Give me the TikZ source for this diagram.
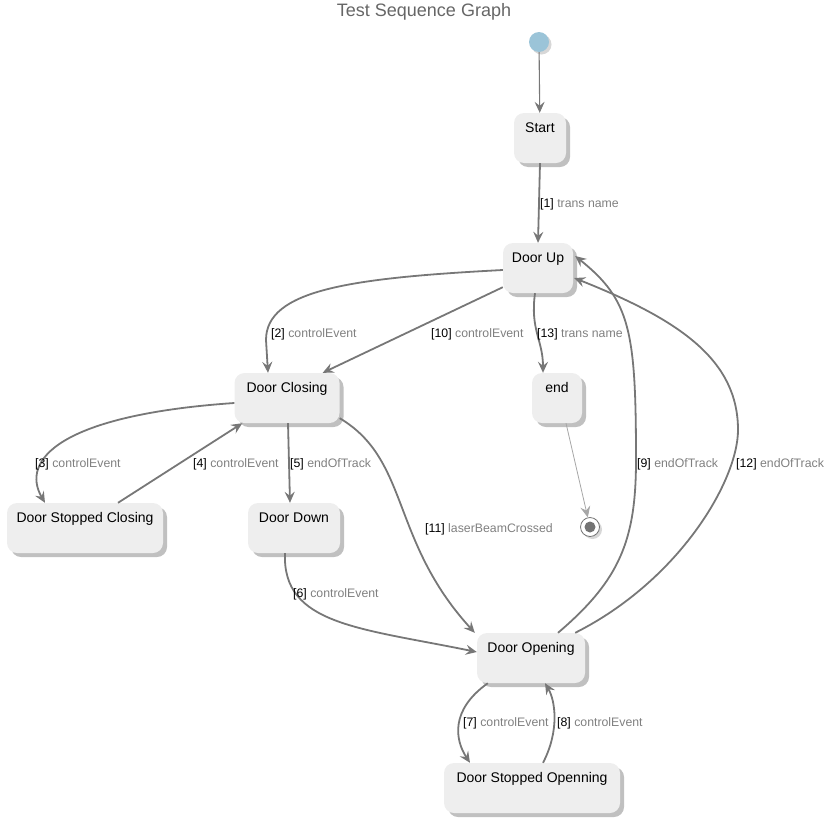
\documentclass[tikz,border=0pt]{standalone}
\usepackage{fontspec}
\setmainfont{Liberation Sans}
\usetikzlibrary{arrows.meta,shadows,calc}

\definecolor{boxfill}{HTML}{EEEEEE}
\definecolor{edgecol}{HTML}{777777}
\definecolor{lblgray}{HTML}{808080}
\definecolor{initblue}{HTML}{9BC4D8}

\tikzset{
  softshadow/.style={drop shadow={shadow xshift=4pt, shadow yshift=-4pt, fill=black!45, opacity=0.55}},
  dotshadow/.style={drop shadow={shadow xshift=2.5pt, shadow yshift=-2.5pt, fill=black!35, opacity=0.45}},
  statebox/.style={rectangle, rounded corners=10pt, fill=boxfill, draw=none, softshadow,
    minimum width=#1, minimum height=50pt, inner xsep=6pt, inner ysep=5pt,
    text height=14pt, text depth=26pt, font=\fontsize{14}{16}\selectfont},
  trans/.style={draw=edgecol, line width=1.8pt, -{Stealth[length=11pt, width=10pt, inset=4pt]}},
  thintrans/.style={draw=edgecol, line width=1.1pt, -{Stealth[length=11pt, width=10pt, inset=4pt]}},
  endtrans/.style={draw=black!35, line width=0.8pt, -{Stealth[length=11pt, width=10pt, inset=4pt]}},
  tlabel/.style={anchor=west, inner sep=0pt, font=\fontsize{12.3}{14}\selectfont}
}
\newcommand{\tlab}[2]{\textcolor{black}{[#1]} \textcolor{lblgray}{#2}}

\begin{document}
\begin{tikzpicture}[x=1pt, y=-1pt]
  \useasboundingbox (0,0) rectangle (837,822);

  % title
  \node[font=\fontsize{18}{20}\selectfont, text=black!60] (title) at (424,12) {Test Sequence Graph};

  % pseudo states
  \node[circle, fill=initblue, minimum size=20pt, inner sep=0pt, dotshadow] (init) at (539,42) {};
  \node[circle, fill=white, draw=black!55, line width=0.8pt, minimum size=19pt, inner sep=0pt, dotshadow] (fin) at (590,527) {};
  \node[circle, fill=black!55, minimum size=11pt, inner sep=0pt] (finc) at (fin) {};

  % states
  \node[statebox=52pt]  (st)  at (540,138) {Start};
  \node[statebox=70pt]  (du)  at (538,268) {Door Up};
  \node[statebox=105pt] (dc)  at (287,398) {Door Closing};
  \node[statebox=50pt]  (en)  at (557,398) {end};
  \node[statebox=156pt] (dsc) at (85,528)  {Door Stopped Closing};
  \node[statebox=92pt]  (dd)  at (294,528) {Door Down};
  \node[statebox=108pt] (dop) at (531,658) {Door Opening};
  \node[statebox=176pt] (dso) at (532,788) {Door Stopped Openning};

  % transitions
  \draw[thintrans] (init) -- (st);
  \draw[trans] (st.south) -- (du.north);

  \draw[trans] ($(du.west)+(0,2)$) .. controls (350,278) and (266,290) .. (266,340) -- (dc.north -| 268,0);
  \draw[trans] ($(du.south west)+(0,-6)$) -- ($(dc.north east)+(-17,0)$);
  \draw[trans] ($(du.south)+(-3,0)$) .. controls (530,330) and (543,340) .. ($(en.north)+(-14,0)$);

  \draw[trans] ($(dc.west)+(0,5)$) .. controls (60,415) and (20,460) .. ($(dsc.north)+(-40,0)$);
  \draw[trans] ($(dsc.north)+(33,0)$) -- ($(dc.south west)+(8,0)$);
  \draw[trans] ($(dc.south)+(1,0)$) -- ($(dd.north)+(-4,0)$);
  \draw[trans] ($(dc.south east)+(0,-5)$) .. controls (410,460) and (390,540) .. ($(dop.north west)+(-2,0)$);

  \draw[trans] ($(dd.south)+(-9,0)$) .. controls (282,625) and (360,628) .. ($(dop.west)+(0,-6)$);

  \draw[trans] ($(dop.north)+(27,0)$) .. controls (620,580) and (636,540) .. (636,460)
                .. controls (636,330) and (630,300) .. ($(du.east)+(2,-12)$);
  \draw[trans] ($(dop.north east)+(-10,0)$) .. controls (680,580) and (738,480) .. (738,430)
                .. controls (738,360) and (680,320) .. ($(du.east)+(1,10)$);

  \draw[trans] ($(dop.south west)+(11,0)$) .. controls (450,710) and (455,740) .. ($(dso.north)+(-62,0)$);
  \draw[trans] ($(dso.north)+(11,0)$) .. controls (560,730) and (555,700) .. ($(dop.south)+(14,0)$);

  \draw[endtrans] ($(en.south)+(9,0)$) -- (fin);

  % transition labels
  \node[tlabel] (l1)  at (540,204) {\tlab{1}{trans name}};
  \node[tlabel] (l2)  at (271,334) {\tlab{2}{controlEvent}};
  \node[tlabel] (l10) at (431,334) {\tlab{10}{controlEvent}};
  \node[tlabel] (l13) at (537,334) {\tlab{13}{trans name}};
  \node[tlabel] (l3)  at (35,464)  {\tlab{3}{controlEvent}};
  \node[tlabel] (l4)  at (193,464) {\tlab{4}{controlEvent}};
  \node[tlabel] (l5)  at (290,464) {\tlab{5}{endOfTrack}};
  \node[tlabel] (l9)  at (637,464) {\tlab{9}{endOfTrack}};
  \node[tlabel] (l12) at (736,464) {\tlab{12}{endOfTrack}};
  \node[tlabel] (l11) at (425,529) {\tlab{11}{laserBeamCrossed}};
  \node[tlabel] (l6)  at (293,594) {\tlab{6}{controlEvent}};
  \node[tlabel] (l7)  at (463,723) {\tlab{7}{controlEvent}};
  \node[tlabel] (l8)  at (557,723) {\tlab{8}{controlEvent}};
\end{tikzpicture}
\end{document}
